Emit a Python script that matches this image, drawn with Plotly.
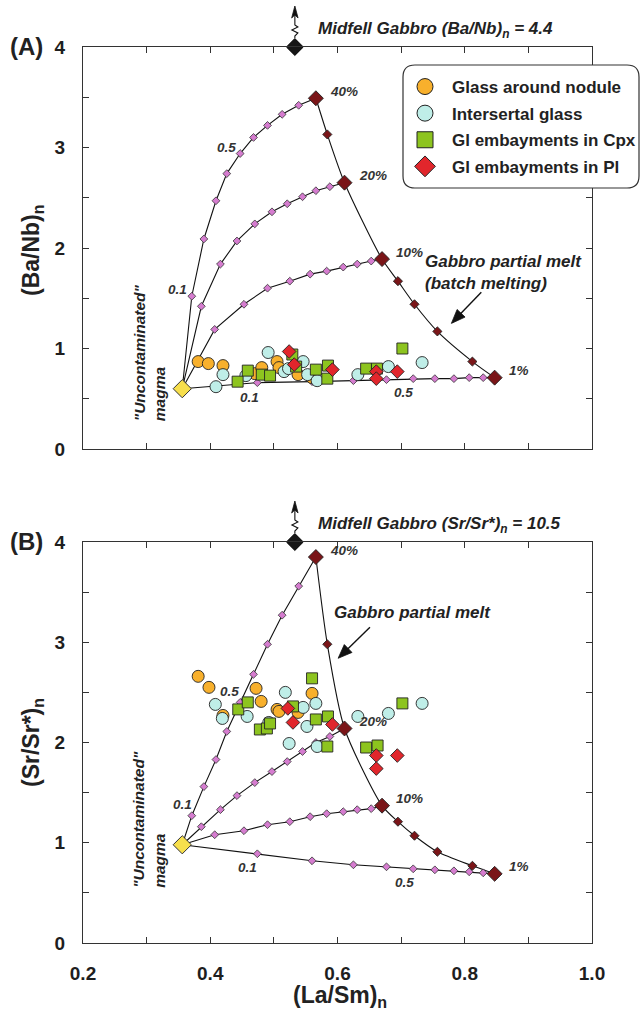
import math
import plotly.graph_objects as go

# ---------------- data ----------------
X_RANGE = [0.2, 1.0]
Y_RANGE = [0.0, 4.0]
X_TICKS = [0.2, 0.4, 0.6, 0.8, 1.0]
X_TICKTEXT = ["0.2", "0.4", "0.6", "0.8", "1.0"]
X_MINOR = [0.3, 0.5, 0.7, 0.9]
Y_TICKS = [0, 1, 2, 3, 4]
Y_TICKTEXT = ["0", "1", "2", "3", "4"]
Y_MINOR = [0.5, 1.5, 2.5, 3.5]

UNC_X = 0.356
UNC_A_Y = 0.60
UNC_B_Y = 0.98
MIDFELL_X = 0.533
MIDFELL_PLOT_Y = 4.0
MIDFELL_A_TEXT = "Midfell Gabbro (Ba/Nb)<sub>n</sub> = 4.4"
MIDFELL_B_TEXT = "Midfell Gabbro (Sr/Sr*)<sub>n</sub> = 10.5"

# batch partial melts of the gabbro (40% ... 1%)
MELT_X = [0.566, 0.584, 0.611, 0.670, 0.695, 0.721, 0.757, 0.812, 0.847]
MELT_A_Y = [3.49, 3.13, 2.65, 1.89, 1.67, 1.44, 1.17, 0.87, 0.71]
MELT_B_Y = [3.85, 2.98, 2.14, 1.37, 1.21, 1.07, 0.91, 0.77, 0.69]
MELT_LABELS = ["40%", "", "20%", "10%", "", "", "", "", "1%"]
MELT_MAJOR = [True, False, True, True, False, False, False, False, True]

# mixing curves (fractions 0.1 ... 0.9) magma -> melt
MIX_END = [0, 2, 3, 8]  # index in MELT_* of each curve end-member
MIX_X = [
    [0.371, 0.390, 0.409, 0.426, 0.447, 0.468, 0.490, 0.513, 0.539],
    [0.386, 0.416, 0.442, 0.470, 0.497, 0.521, 0.545, 0.566, 0.588],
    [0.407, 0.453, 0.490, 0.525, 0.557, 0.583, 0.609, 0.631, 0.653],
    [0.474, 0.560, 0.625, 0.677, 0.719, 0.753, 0.783, 0.807, 0.829],
]
MIX_A_Y = [
    [1.52, 2.09, 2.47, 2.74, 2.94, 3.10, 3.22, 3.33, 3.42],
    [1.42, 1.84, 2.07, 2.24, 2.36, 2.44, 2.51, 2.57, 2.61],
    [1.19, 1.44, 1.60, 1.67, 1.74, 1.77, 1.81, 1.84, 1.87],
    [0.66, 0.67, 0.68, 0.69, 0.70, 0.70, 0.70, 0.71, 0.71],
]
MIX_B_Y = [
    [1.27, 1.56, 1.83, 2.11, 2.40, 2.68, 2.98, 3.27, 3.56],
    [1.16, 1.33, 1.47, 1.60, 1.71, 1.81, 1.91, 2.00, 2.06],
    [1.08, 1.12, 1.18, 1.21, 1.26, 1.29, 1.31, 1.33, 1.34],
    [0.89, 0.82, 0.78, 0.76, 0.74, 0.73, 0.72, 0.71, 0.70],
]
# mixing-fraction labels: (text, x, y) in data units
MIX_LABELS_A = [("0.5", 0.425, 3.00), ("0.1", 0.349, 1.59), ("0.1", 0.461, 0.51), ("0.5", 0.703, 0.56)]
MIX_LABELS_B = [("0.5", 0.431, 2.51), ("0.1", 0.356, 1.38), ("0.1", 0.459, 0.75), ("0.5", 0.705, 0.60)]

# samples
GLASS_NODULE_A_X = [0.381, 0.397, 0.420, 0.470, 0.481, 0.505, 0.508, 0.538, 0.560]
GLASS_NODULE_A_Y = [0.87, 0.85, 0.83, 0.75, 0.81, 0.87, 0.81, 0.74, 0.71]
GLASS_NODULE_B_X = [0.381, 0.398, 0.420, 0.472, 0.480, 0.505, 0.508, 0.538, 0.560]
GLASS_NODULE_B_Y = [2.66, 2.55, 2.27, 2.54, 2.41, 2.33, 2.31, 2.30, 2.49]

INTERSERTAL_A_X = [0.409, 0.420, 0.456, 0.491, 0.516, 0.523, 0.546, 0.553, 0.568, 0.632, 0.680, 0.733]
INTERSERTAL_A_Y = [0.62, 0.74, 0.73, 0.96, 0.77, 0.80, 0.87, 0.74, 0.68, 0.74, 0.82, 0.86]
INTERSERTAL_B_X = [0.408, 0.419, 0.458, 0.492, 0.518, 0.546, 0.566, 0.552, 0.524, 0.568, 0.632, 0.680, 0.733]
INTERSERTAL_B_Y = [2.38, 2.24, 2.26, 2.20, 2.50, 2.35, 2.39, 2.16, 1.99, 1.96, 2.26, 2.29, 2.39]

CPX_A_X = [0.443, 0.459, 0.481, 0.494, 0.529, 0.535, 0.566, 0.585, 0.584, 0.645, 0.662, 0.702]
CPX_A_Y = [0.67, 0.78, 0.74, 0.73, 0.94, 0.82, 0.79, 0.83, 0.70, 0.80, 0.80, 1.00]
CPX_B_X = [0.444, 0.459, 0.478, 0.489, 0.494, 0.530, 0.560, 0.566, 0.585, 0.584, 0.645, 0.663, 0.702]
CPX_B_Y = [2.33, 2.40, 2.13, 2.14, 2.19, 2.36, 2.64, 2.23, 2.26, 1.96, 1.95, 1.97, 2.39]

PL_A_X = [0.524, 0.532, 0.592, 0.661, 0.661, 0.694]
PL_A_Y = [0.97, 0.84, 0.79, 0.77, 0.70, 0.77]
PL_B_X = [0.522, 0.530, 0.592, 0.661, 0.661, 0.694]
PL_B_Y = [2.34, 2.20, 2.18, 1.87, 1.74, 1.87]

SERIES_NAMES = ["Glass around nodule", "Intersertal glass", "Gl embayments in Cpx", "Gl embayments in Pl"]

# arrows "Gabbro partial melt": (head x, head y, tail x, tail y)
ARROW_A = (0.779, 1.25, 0.826, 1.56)
ARROW_B = (0.601, 2.84, 0.651, 3.15)

# ---------------- styling ----------------
FONT = "Liberation Sans, Arial, Helvetica, sans-serif"
COL_ORANGE = "#f8b02c"
COL_CYAN = "#bfeee8"
COL_GREEN = "#8dc41f"
COL_RED = "#e1262c"
COL_PINK = "#d57ccf"
COL_DARKRED = "#7a1518"
COL_YELLOW = "#f7df4c"

W, H = 641, 1023
ML, MR, MT, MB = 83, 49, 47, 80
PW = W - ML - MR
PH = H - MT - MB
DOM_A = [(943 - 449) / PH, 1.0]
DOM_B = [0.0, (943 - 542) / PH]

SERIES_STYLE = [
    dict(symbol="circle", color=COL_ORANGE, size=12),
    dict(symbol="circle", color=COL_CYAN, size=12),
    dict(symbol="square", color=COL_GREEN, size=11),
    dict(symbol="diamond", color=COL_RED, size=10.5),
]

fig = go.Figure()


def add_panel(xa, ya, unc_y, melt_y, mix_y, samples):
    for k, xs in enumerate(MIX_X):
        e = MIX_END[k]
        fig.add_trace(go.Scatter(
            x=[UNC_X] + xs + [MELT_X[e]], y=[unc_y] + mix_y[k] + [melt_y[e]],
            mode="lines", line=dict(color="#111", width=1.1),
            xaxis=xa, yaxis=ya, showlegend=False, hoverinfo="skip"))
    fig.add_trace(go.Scatter(
        x=MELT_X, y=melt_y, mode="lines",
        line=dict(color="#111", width=1.1, shape="spline", smoothing=0.7),
        xaxis=xa, yaxis=ya, showlegend=False, hoverinfo="skip"))
    px, py = [], []
    for k, xs in enumerate(MIX_X):
        px += xs
        py += mix_y[k]
    fig.add_trace(go.Scatter(
        x=px, y=py, mode="markers",
        marker=dict(symbol="diamond", size=6, color=COL_PINK, line=dict(color="#333", width=0.8)),
        xaxis=xa, yaxis=ya, showlegend=False, hoverinfo="skip"))
    for major in (False, True):
        mx = [x for x, m in zip(MELT_X, MELT_MAJOR) if m == major]
        my = [y for y, m in zip(melt_y, MELT_MAJOR) if m == major]
        fig.add_trace(go.Scatter(
            x=mx, y=my, mode="markers",
            marker=dict(symbol="diamond", size=11.5 if major else 7, color=COL_DARKRED,
                        line=dict(color="#222", width=0.9)),
            xaxis=xa, yaxis=ya, showlegend=False, hoverinfo="skip"))
    for (sx, sy), st, name in zip(samples, SERIES_STYLE, SERIES_NAMES):
        fig.add_trace(go.Scatter(
            x=sx, y=sy, mode="markers", name=name,
            marker=dict(symbol=st["symbol"], size=st["size"], color=st["color"],
                        line=dict(color="#222", width=0.9)),
            xaxis=xa, yaxis=ya, showlegend=False))
    fig.add_trace(go.Scatter(
        x=[UNC_X], y=[unc_y], mode="markers",
        marker=dict(symbol="diamond", size=14, color=COL_YELLOW, line=dict(color="#333", width=1)),
        xaxis=xa, yaxis=ya, showlegend=False, hoverinfo="skip"))
    fig.add_trace(go.Scatter(
        x=[MIDFELL_X], y=[MIDFELL_PLOT_Y], mode="markers", cliponaxis=False,
        marker=dict(symbol="diamond", size=13, color="#161616", line=dict(color="#000", width=1)),
        xaxis=xa, yaxis=ya, showlegend=False, hoverinfo="skip"))


add_panel("x", "y", UNC_A_Y, MELT_A_Y, MIX_A_Y,
          [(GLASS_NODULE_A_X, GLASS_NODULE_A_Y), (INTERSERTAL_A_X, INTERSERTAL_A_Y),
           (CPX_A_X, CPX_A_Y), (PL_A_X, PL_A_Y)])
add_panel("x2", "y2", UNC_B_Y, MELT_B_Y, MIX_B_Y,
          [(GLASS_NODULE_B_X, GLASS_NODULE_B_Y), (INTERSERTAL_B_X, INTERSERTAL_B_Y),
           (CPX_B_X, CPX_B_Y), (PL_B_X, PL_B_Y)])

# legend-only entries (bigger symbols)
for st, name in zip(SERIES_STYLE, SERIES_NAMES):
    fig.add_trace(go.Scatter(
        x=[None], y=[None], mode="markers", name=name, legendgroup=name,
        marker=dict(symbol=st["symbol"], size=16, color=st["color"], line=dict(color="#222", width=1)),
        xaxis="x", yaxis="y", showlegend=True))

# ---------------- axes ----------------
axis_common = dict(
    showline=True, linecolor="#333", linewidth=1.4, mirror="ticks",
    ticks="inside", ticklen=6, tickwidth=1.2, tickcolor="#333",
    showgrid=False, zeroline=False,
    tickfont=dict(family=FONT, size=19, color="#1e1e1e", weight="bold"),
    ticklabelstandoff=13,
)
minor_x = dict(tickvals=X_MINOR, ticks="inside", ticklen=6, tickwidth=1.2, tickcolor="#333", showgrid=False)
minor_y = dict(tickvals=Y_MINOR, ticks="inside", ticklen=6, tickwidth=1.2, tickcolor="#333", showgrid=False)
fig.update_layout(
    xaxis=dict(axis_common, range=X_RANGE, tickmode="array", tickvals=X_TICKS,
               ticktext=X_TICKTEXT, showticklabels=False, anchor="y", domain=[0, 1], minor=minor_x),
    yaxis=dict(axis_common, range=Y_RANGE, tickmode="array", tickvals=Y_TICKS,
               ticktext=Y_TICKTEXT, anchor="x", domain=DOM_A, minor=minor_y),
    xaxis2=dict(axis_common, range=X_RANGE, tickmode="array", tickvals=X_TICKS,
                ticktext=X_TICKTEXT, anchor="y2", domain=[0, 1], minor=minor_x),
    yaxis2=dict(axis_common, range=Y_RANGE, tickmode="array", tickvals=Y_TICKS,
                ticktext=Y_TICKTEXT, anchor="x2", domain=DOM_B, minor=minor_y),
)

# ---------------- annotations ----------------
ann = []


def txt(text, x, y, xref, yref, size, xanchor="center", yanchor="middle", bold=True,
        italic=False, angle=0, align="center", color="#222"):
    t = text
    if italic:
        t = "<i>" + t + "</i>"
    if bold:
        t = "<b>" + t + "</b>"
    ann.append(dict(text=t, x=x, y=y, xref=xref, yref=yref, showarrow=False,
                    xanchor=xanchor, yanchor=yanchor, textangle=angle, align=align,
                    font=dict(family=FONT, size=size, color=color)))


txt("(A)", (26 - ML) / PW, (943 - 46) / PH, "paper", "paper", 24)
txt("(B)", (26 - ML) / PW, (943 - 541) / PH, "paper", "paper", 24)
txt("(Ba/Nb)<sub>n</sub>", (32 - ML) / PW, (943 - 250) / PH, "paper", "paper", 23, angle=-90)
txt("(Sr/Sr*)<sub>n</sub>", (32 - ML) / PW, (943 - 743) / PH, "paper", "paper", 23, angle=-90)
txt("(La/Sm)<sub>n</sub>", (340 - ML) / PW, (943 - 996) / PH, "paper", "paper", 23)

for xa, ya, dom, melt_y, mix_labels, mtext, unc_lab_y in (
        ("x", "y", DOM_A, MELT_A_Y, MIX_LABELS_A, MIDFELL_A_TEXT, 0.955),
        ("x2", "y2", DOM_B, MELT_B_Y, MIX_LABELS_B, MIDFELL_B_TEXT, 1.23)):
    ph = (dom[1] - dom[0]) * PH
    txt(mtext, (316 - ML) / PW, 1.0 + 17 / ph, xa + " domain", ya + " domain", 17,
        xanchor="left", italic=True)
    for lab, x, y in zip(MELT_LABELS, MELT_X, melt_y):
        if lab:
            txt(lab, x + 0.019, y + 0.07, xa, ya, 13.5, xanchor="left", italic=True, color="#333")
    for lab, x, y in mix_labels:
        txt(lab, x, y, xa, ya, 13.5, italic=True, color="#333")
    txt("\"Uncontaminated\"<br>magma", 0.304, unc_lab_y, xa, ya, 15.5, italic=True,
        angle=-90, align="left")

txt("Gabbro partial melt<br>(batch melting)", 0.735, 1.76, "x", "y", 17,
    xanchor="left", italic=True, align="left")
txt("Gabbro partial melt", 0.592, 3.30, "x2", "y2", 17, xanchor="left", italic=True)
fig.update_layout(annotations=ann)

# ---------------- shapes: arrows, squiggles, legend box ----------------
shapes = []
sx_px = PW / (X_RANGE[1] - X_RANGE[0])
for xa, ya, dom, arrow in (("x", "y", DOM_A, ARROW_A), ("x2", "y2", DOM_B, ARROW_B)):
    ph = (dom[1] - dom[0]) * PH
    sy_px = ph / (Y_RANGE[1] - Y_RANGE[0])
    hx, hy, tx, ty = arrow
    dx, dy = (hx - tx) * sx_px, (hy - ty) * sy_px
    L = math.hypot(dx, dy)
    ux, uy = dx / L, dy / L
    hl, hw = 14.0, 5.5
    bx, by = -ux * hl, -uy * hl
    nx, ny = -uy * hw, ux * hw
    base_x, base_y = hx + bx / sx_px, hy + by / sy_px
    shapes.append(dict(type="line", x0=tx, y0=ty, x1=hx - ux * 8 / sx_px, y1=hy - uy * 8 / sy_px,
                       xref=xa, yref=ya, line=dict(color="#111", width=1.4)))
    tri = "M{:.5f},{:.5f} L{:.5f},{:.5f} L{:.5f},{:.5f} Z".format(
        hx, hy, base_x + nx / sx_px, base_y + ny / sy_px, base_x - nx / sx_px, base_y - ny / sy_px)
    shapes.append(dict(type="path", path=tri, xref=xa, yref=ya,
                       line=dict(color="#111", width=0.8), fillcolor="#111"))

    xd = (MIDFELL_X - X_RANGE[0]) / (X_RANGE[1] - X_RANGE[0])

    def P(a, b):
        return "%.5f,%.5f" % (xd + a / PW, 1.0 + b / ph)
    stem = [(0, 9), (0, 11), (3, 14), (-3, 17), (3, 20), (0, 22), (0, 37)]
    path = "M" + " L".join(P(a, b) for a, b in stem)
    shapes.append(dict(type="path", path=path, xref=xa + " domain", yref=ya + " domain",
                       line=dict(color="#111", width=1.1), layer="above"))
    head = [(0, 41), (-3.2, 29), (0, 32), (3.2, 29)]
    hpath = "M" + " L".join(P(a, b) for a, b in head) + " Z"
    shapes.append(dict(type="path", path=hpath, xref=xa + " domain", yref=ya + " domain",
                       line=dict(color="#111", width=0.8), fillcolor="#111", layer="above"))

bx0, bx1 = (403 - ML) / PW, (639 - ML) / PW
by1, by0 = (943 - 65) / PH, (943 - 188) / PH
rx, ry = 12 / PW, 12 / PH
box = ("M{a},{t} L{b},{t} Q{r},{t} {r},{t2} L{r},{b2} Q{r},{bo} {b},{bo} "
       "L{a},{bo} Q{l},{bo} {l},{b2} L{l},{t2} Q{l},{t} {a},{t} Z").format(
    a=bx0 + rx, b=bx1 - rx, l=bx0, r=bx1, t=by1, bo=by0, t2=by1 - ry, b2=by0 + ry)
shapes.append(dict(type="path", path=box, xref="paper", yref="paper",
                   line=dict(color="#333", width=1.2), fillcolor="white", layer="above"))
fig.update_layout(shapes=shapes)

fig.update_layout(
    width=W, height=H,
    margin=dict(l=ML, r=MR, t=MT, b=MB, autoexpand=False),
    paper_bgcolor="white", plot_bgcolor="white",
    showlegend=True,
    legend=dict(x=(398 - ML) / PW, y=(943 - 69) / PH, xanchor="left", yanchor="top",
                bgcolor="rgba(0,0,0,0)", borderwidth=0, traceorder="grouped",
                tracegroupgap=1.5, itemwidth=44,
                font=dict(family=FONT, size=17, color="#222", weight="bold")),
    font=dict(family=FONT),
)

fig.write_html("out.html", config={"displayModeBar": False},
               post_script="document.body.style.margin='0px';")
